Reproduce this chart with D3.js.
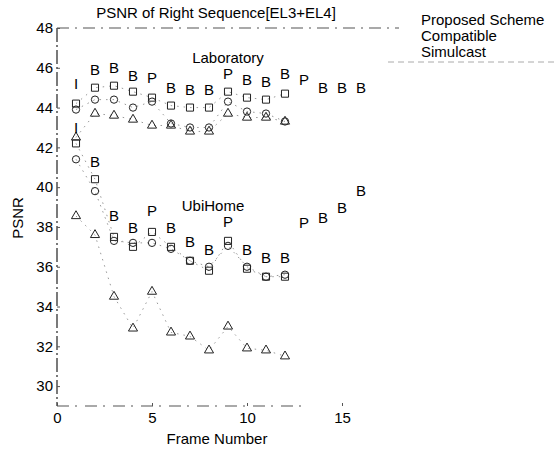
<!DOCTYPE html>
<html>
<head>
<meta charset="utf-8">
<script src="https://cdn.jsdelivr.net/npm/d3@7/dist/d3.min.js"></script>
<style>
  html, body { margin: 0; padding: 0; background: #fff; }
  svg { display: block; font-family: "Liberation Sans", Arial, sans-serif; }
</style>
</head>
<body>
<svg id="chart" width="560" height="450"></svg>
<script>
// frame numbers that carry markers
const frames = [1, 2, 3, 4, 5, 6, 7, 8, 9, 10, 11, 12];

// Laboratory sequence
const labProposed   = [44.2, 45.0, 45.1, 44.8, 44.5, 44.1, 44.0, 44.0, 44.8, 44.5, 44.4, 44.7];
const labCompatible = [43.9, 44.4, 44.4, 44.0, 44.3, 43.2, 43.0, 43.0, 44.3, 43.8, 43.7, 43.3];
const labSimulcast  = [42.5, 43.7, 43.6, 43.4, 43.1, 43.1, 42.8, 42.8, 43.7, 43.5, 43.5, 43.3];

// UbiHome sequence
const ubiProposed   = [42.2, 40.4, 37.5, 37.0, 37.75, 37.0, 36.3, 35.8, 37.3, 35.9, 35.5, 35.5];
const ubiCompatible = [41.4, 39.8, 37.3, 37.2, 37.2, 36.9, 36.3, 36.0, 37.05, 36.0, 35.5, 35.6];
const ubiSimulcast  = [38.55, 37.6, 34.5, 32.9, 34.75, 32.7, 32.5, 31.8, 33.0, 31.9, 31.8, 31.5];

// frame types written above the points (frames 1..16)
const labelFrames = [1, 2, 3, 4, 5, 6, 7, 8, 9, 10, 11, 12, 13, 14, 15, 16];
const frameTypes  = ['I', 'B', 'B', 'B', 'P', 'B', 'B', 'B', 'P', 'B', 'B', 'B', 'P', 'B', 'B', 'B'];
const labLabelAt  = [45.2, 45.9, 46.0, 45.6, 45.5, 45.0, 44.9, 44.9, 45.7, 45.4, 45.3, 45.7, 45.4, 45.0, 45.0, 45.0];
const ubiLabelAt  = [43.0, 41.3, 38.6, 37.95, 38.85, 37.95, 37.25, 36.85, 38.25, 36.85, 36.45, 36.45, 38.2, 38.5, 39.0, 39.85];

const xTicks = [0, 5, 10, 15];
const yTicks = [30, 32, 34, 36, 38, 40, 42, 44, 46, 48];
const legendNames = ['Proposed Scheme', 'Compatible', 'Simulcast'];

const svg = d3.select('#chart');
const x = d3.scaleLinear().domain([0, 18]).range([57, 399]);
const y = d3.scaleLinear().domain([29, 48]).range([406, 28]);
const FS = 15;

// frame of the plot (faded scan look)
svg.append('line')
    .attr('x1', x(0)).attr('x2', x(0)).attr('y1', y(48)).attr('y2', y(29))
    .attr('stroke', '#222').attr('stroke-width', 1.2).attr('stroke-dasharray', '14,3,2,3');
svg.append('line')
    .attr('x1', x(0)).attr('x2', x(18)).attr('y1', y(48)).attr('y2', y(48))
    .attr('stroke', '#555').attr('stroke-width', 1.2).attr('stroke-dasharray', '12,6,2,6');
svg.append('line')
    .attr('x1', x(0)).attr('x2', x(13)).attr('y1', y(29)).attr('y2', y(29))
    .attr('stroke', '#555').attr('stroke-width', 1.2).attr('stroke-dasharray', '12,6,2,8');

// axes
const yAxis = svg.append('g')
    .attr('transform', `translate(${x(0)},0)`)
    .call(d3.axisLeft(y).tickValues(yTicks).tickSize(-3).tickPadding(4));
const xAxis = svg.append('g')
    .attr('transform', `translate(0,${y(29)})`)
    .call(d3.axisBottom(x).tickValues(xTicks).tickSize(-3).tickPadding(6));
[xAxis, yAxis].forEach(a => {
    a.select('.domain').remove();
    a.selectAll('.tick line').attr('stroke', '#555');
    a.selectAll('.tick text')
        .attr('fill', '#000')
        .attr('font-size', FS)
        .attr('font-family', '"Liberation Sans", Arial, sans-serif');
});

// titles
svg.append('text').attr('x', 216).attr('y', 18).attr('text-anchor', 'middle')
    .attr('font-size', FS).text('PSNR of Right Sequence[EL3+EL4]');
svg.append('text').attr('x', 217).attr('y', 444).attr('text-anchor', 'middle')
    .attr('font-size', FS).text('Frame Number');
svg.append('text').attr('transform', 'translate(23,218) rotate(-90)')
    .attr('text-anchor', 'middle').attr('font-size', FS).text('PSNR');

svg.append('text').attr('x', 228).attr('y', 63).attr('text-anchor', 'middle')
    .attr('font-size', FS).text('Laboratory');
svg.append('text').attr('x', 213).attr('y', 211).attr('text-anchor', 'middle')
    .attr('font-size', FS).text('UbiHome');

// faint connecting lines
const line = d3.line().x((d, i) => x(frames[i])).y(d => y(d));
const series = [
    { vals: labProposed, shape: 'square' },
    { vals: labCompatible, shape: 'circle' },
    { vals: labSimulcast, shape: 'triangle' },
    { vals: ubiProposed, shape: 'square' },
    { vals: ubiCompatible, shape: 'circle' },
    { vals: ubiSimulcast, shape: 'triangle' }
];
series.forEach(s => {
    svg.append('path')
        .attr('d', line(s.vals))
        .attr('fill', 'none')
        .attr('stroke', '#999')
        .attr('stroke-width', 1)
        .attr('stroke-dasharray', '1.5,5');
});

// markers
const symbolType = { square: d3.symbolSquare, circle: d3.symbolCircle, triangle: d3.symbolTriangle };
const symbolSize = { square: 50, circle: 42, triangle: 36 };
series.forEach(s => {
    svg.append('g').selectAll('path')
        .data(s.vals)
        .join('path')
        .attr('transform', (d, i) => `translate(${x(frames[i])},${y(d)})`)
        .attr('d', d3.symbol().type(symbolType[s.shape]).size(symbolSize[s.shape]))
        .attr('fill', 'none')
        .attr('stroke', '#222')
        .attr('stroke-width', 1);
});

// frame type labels
[labLabelAt, ubiLabelAt].forEach(levels => {
    svg.append('g').selectAll('text')
        .data(levels)
        .join('text')
        .attr('x', (d, i) => x(labelFrames[i]))
        .attr('y', d => y(d) + 5.5)
        .attr('text-anchor', 'middle')
        .attr('font-size', FS)
        .text((d, i) => frameTypes[i]);
});

// legend
const legend = svg.append('g');
legendNames.forEach((name, i) => {
    legend.append('text')
        .attr('x', 421).attr('y', 25 + i * 16)
        .attr('font-size', FS)
        .text(name);
});
legend.append('line')
    .attr('x1', 388).attr('x2', 555).attr('y1', 62).attr('y2', 62)
    .attr('stroke', '#aaa').attr('stroke-width', 1).attr('stroke-dasharray', '6,4');
</script>
</body>
</html>
